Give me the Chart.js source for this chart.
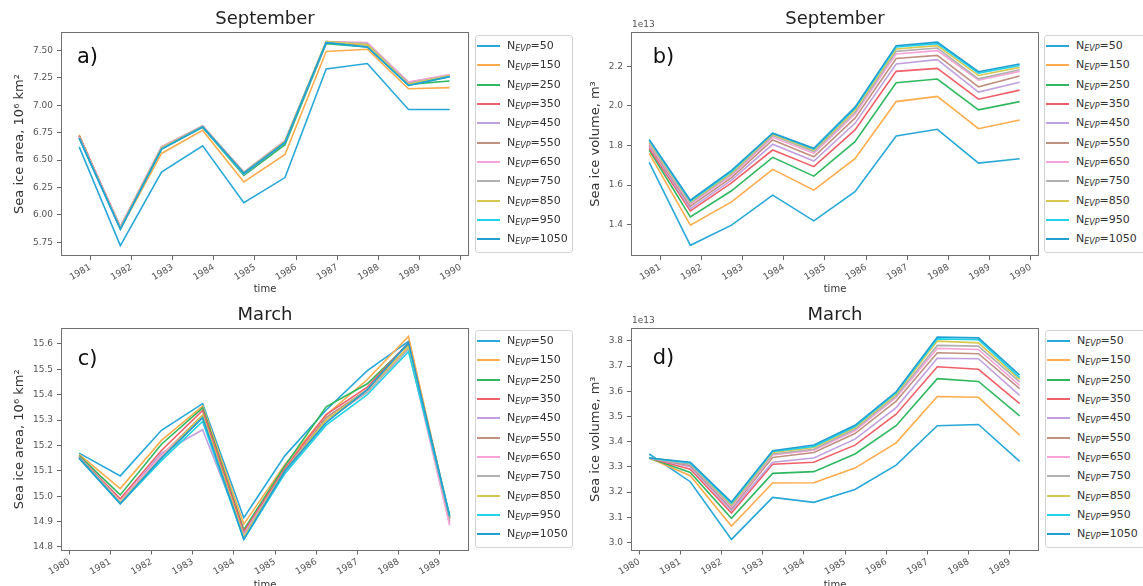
<!DOCTYPE html>
<html>
<head>
<meta charset="utf-8">
<script src="https://cdn.jsdelivr.net/npm/chart.js@4.4.1/dist/chart.umd.min.js"></script>
<style>
  html, body { margin: 0; padding: 0; background: #fff; }
  #wrap { position: relative; width: 1143px; height: 586px; overflow: hidden; background: #fff; }
  .panel { position: absolute; overflow: hidden; }
  .panel canvas { display: block; }
  .legend { position: absolute; box-sizing: border-box; border: 1px solid #d4d4d4; border-radius: 3px; background: rgba(255,255,255,0.9);
            font-family: "DejaVu Sans", sans-serif; color: #333; }
  .legend .row { position: relative; height: 19.33px; line-height: 19.33px; font-size: 11px; white-space: nowrap; }
  .legend .sw { position: absolute; left: 1px; top: 9px; width: 23px; height: 2px; }
  .legend .tx { position: absolute; left: 31px; top: 0; }
  .legend sub { font-size: 8px; font-style: italic; vertical-align: -2px; line-height: 0; }
</style>
</head>
<body>
<div id="wrap">
  <div class="panel" style="left:0;top:0;width:472px;height:293px"><canvas id="ca" width="472" height="296"></canvas></div>
  <div class="panel" style="left:570px;top:0;width:472px;height:293px"><canvas id="cb" width="472" height="296"></canvas></div>
  <div class="panel" style="left:0;top:296px;width:472px;height:290px"><canvas id="cc" width="472" height="296"></canvas></div>
  <div class="panel" style="left:570px;top:296px;width:472px;height:290px"><canvas id="cd" width="472" height="296"></canvas></div>
  <div class="legend" id="la" style="left:475px;top:35px;width:98px;height:218px"></div>
  <div class="legend" id="lb" style="left:1044px;top:35px;width:110px;height:218px"></div>
  <div class="legend" id="lc" style="left:475px;top:330px;width:98px;height:218px"></div>
  <div class="legend" id="ld" style="left:1045px;top:330px;width:110px;height:218px"></div>
</div>
<script>
// ---------- categories / ticks ----------
const seriesN = [50, 150, 250, 350, 450, 550, 650, 750, 850, 950, 1050];
const septYears = [1980.73, 1981.73, 1982.73, 1983.73, 1984.73, 1985.73, 1986.73, 1987.73, 1988.73, 1989.73];
const marchYears = [1980.24, 1981.24, 1982.24, 1983.24, 1984.24, 1985.24, 1986.24, 1987.24, 1988.24, 1989.24];
const septTickYears = [1981, 1982, 1983, 1984, 1985, 1986, 1987, 1988, 1989, 1990];
const marchTickYears = [1980, 1981, 1982, 1983, 1984, 1985, 1986, 1987, 1988, 1989];
const septAreaTicks = [5.75, 6.00, 6.25, 6.50, 6.75, 7.00, 7.25, 7.50];
const septVolTicks = [1.4, 1.6, 1.8, 2.0, 2.2];
const marchAreaTicks = [14.8, 14.9, 15.0, 15.1, 15.2, 15.3, 15.4, 15.5, 15.6];
const marchVolTicks = [3.0, 3.1, 3.2, 3.3, 3.4, 3.5, 3.6, 3.7, 3.8];

// ---------- a) September sea ice area, 10^6 km^2 (rows: N_EVP = 50 ... 1050) ----------
const septArea = [
  [6.62, 5.72, 6.39, 6.63, 6.11, 6.34, 7.33, 7.38, 6.96, 6.96],
  [6.73, 5.87, 6.56, 6.77, 6.30, 6.55, 7.49, 7.51, 7.15, 7.16],
  [6.72, 5.88, 6.60, 6.80, 6.36, 6.64, 7.56, 7.53, 7.19, 7.22],
  [6.72, 5.89, 6.61, 6.81, 6.37, 6.66, 7.57, 7.55, 7.20, 7.26],
  [6.71, 5.89, 6.61, 6.81, 6.38, 6.67, 7.57, 7.56, 7.21, 7.27],
  [6.71, 5.89, 6.62, 6.81, 6.38, 6.67, 7.57, 7.56, 7.20, 7.27],
  [6.71, 5.89, 6.62, 6.81, 6.39, 6.68, 7.58, 7.57, 7.21, 7.28],
  [6.70, 5.88, 6.61, 6.81, 6.39, 6.67, 7.58, 7.56, 7.20, 7.27],
  [6.70, 5.88, 6.61, 6.80, 6.38, 6.67, 7.58, 7.55, 7.19, 7.27],
  [6.70, 5.87, 6.60, 6.80, 6.37, 6.66, 7.57, 7.53, 7.18, 7.26],
  [6.70, 5.87, 6.60, 6.80, 6.38, 6.66, 7.57, 7.53, 7.18, 7.26]
];
// ---------- b) September sea ice volume, 1e13 m^3 ----------
const septVol = [
  [1.715, 1.295, 1.397, 1.549, 1.419, 1.566, 1.848, 1.882, 1.711, 1.733],
  [1.760, 1.397, 1.515, 1.679, 1.574, 1.733, 2.022, 2.048, 1.885, 1.929],
  [1.777, 1.439, 1.571, 1.740, 1.645, 1.819, 2.117, 2.136, 1.980, 2.022],
  [1.786, 1.469, 1.611, 1.777, 1.693, 1.879, 2.175, 2.190, 2.034, 2.080],
  [1.797, 1.481, 1.625, 1.806, 1.721, 1.912, 2.212, 2.234, 2.070, 2.120],
  [1.803, 1.493, 1.637, 1.828, 1.743, 1.938, 2.240, 2.256, 2.097, 2.151],
  [1.810, 1.503, 1.648, 1.841, 1.760, 1.958, 2.263, 2.280, 2.130, 2.175],
  [1.815, 1.510, 1.655, 1.850, 1.769, 1.968, 2.276, 2.293, 2.137, 2.183],
  [1.820, 1.515, 1.662, 1.857, 1.777, 1.980, 2.288, 2.305, 2.154, 2.195],
  [1.826, 1.518, 1.668, 1.862, 1.782, 1.989, 2.298, 2.315, 2.166, 2.205],
  [1.831, 1.523, 1.674, 1.862, 1.786, 1.994, 2.305, 2.323, 2.173, 2.212]
];
// ---------- c) March sea ice area, 10^6 km^2 ----------
const marchArea = [
  [15.170, 15.080, 15.260, 15.365, 14.915, 15.160, 15.340, 15.495, 15.610, 14.920],
  [15.165, 15.030, 15.220, 15.355, 14.890, 15.125, 15.320, 15.460, 15.630, 14.915],
  [15.160, 15.005, 15.205, 15.348, 14.868, 15.120, 15.352, 15.443, 15.600, 14.920],
  [15.155, 14.990, 15.180, 15.338, 14.860, 15.110, 15.322, 15.430, 15.605, 14.910],
  [15.155, 14.980, 15.170, 15.262, 14.850, 15.100, 15.310, 15.420, 15.590, 14.890],
  [15.155, 14.980, 15.160, 15.320, 14.840, 15.100, 15.310, 15.420, 15.590, 14.900],
  [15.150, 14.980, 15.160, 15.310, 14.840, 15.090, 15.300, 15.410, 15.580, 14.885],
  [15.150, 14.975, 15.150, 15.310, 14.840, 15.100, 15.300, 15.410, 15.580, 14.910],
  [15.150, 14.975, 15.150, 15.320, 14.840, 15.100, 15.300, 15.420, 15.590, 14.920],
  [15.150, 14.970, 15.140, 15.295, 14.830, 15.090, 15.280, 15.400, 15.570, 14.925],
  [15.150, 14.970, 15.150, 15.310, 14.830, 15.100, 15.290, 15.420, 15.605, 14.920]
];
// ---------- d) March sea ice volume, 1e13 m^3 ----------
const marchVol = [
  [3.351, 3.241, 3.012, 3.179, 3.159, 3.210, 3.307, 3.463, 3.468, 3.322],
  [3.335, 3.265, 3.065, 3.236, 3.237, 3.295, 3.395, 3.579, 3.576, 3.426],
  [3.335, 3.278, 3.096, 3.274, 3.281, 3.351, 3.463, 3.650, 3.639, 3.502],
  [3.335, 3.291, 3.117, 3.310, 3.318, 3.386, 3.509, 3.697, 3.687, 3.551],
  [3.335, 3.300, 3.128, 3.318, 3.335, 3.410, 3.535, 3.731, 3.729, 3.584],
  [3.335, 3.305, 3.135, 3.337, 3.357, 3.432, 3.561, 3.753, 3.749, 3.610],
  [3.335, 3.310, 3.140, 3.347, 3.366, 3.443, 3.575, 3.770, 3.766, 3.623],
  [3.335, 3.310, 3.145, 3.351, 3.370, 3.449, 3.581, 3.782, 3.779, 3.637],
  [3.335, 3.315, 3.150, 3.357, 3.377, 3.455, 3.588, 3.799, 3.792, 3.647],
  [3.335, 3.315, 3.155, 3.361, 3.381, 3.460, 3.594, 3.808, 3.805, 3.654],
  [3.335, 3.318, 3.160, 3.364, 3.387, 3.465, 3.598, 3.815, 3.812, 3.664]
];

const seriesColors = ['#28a8d8', '#ffac4c', '#30b860', '#f06068', '#c0a0e0', '#c09080',
                      '#f8a4d8', '#b0b0b0', '#d8c850', '#22d2e8', '#22a0d2'];

const FONT = '"DejaVu Sans", "Liberation Sans", sans-serif';

const framePlugin = {
  id: 'frame',
  afterDraw(chart, args, opts) {
    const {ctx, chartArea: a} = chart;
    ctx.save();
    ctx.strokeStyle = '#707070';
    ctx.lineWidth = 1;
    ctx.strokeRect(Math.round(a.left) + 0.5, Math.round(a.top) + 0.5,
                   Math.round(a.right - a.left) - 1, Math.round(a.bottom - a.top) - 1);
    ctx.fillStyle = '#111';
    ctx.font = '21px ' + FONT;
    ctx.textBaseline = 'middle';
    ctx.textAlign = 'left';
    ctx.fillText(opts.tag, a.left + opts.tagDx, a.top + opts.tagDy);
    if (opts.exp) {
      ctx.fillStyle = '#555';
      ctx.font = '9px ' + FONT;
      ctx.fillText(opts.exp, a.left + 1, a.top - 7);
    }
    ctx.restore();
  }
};

function makePanel(id, p) {
  const datasets = p.series.map((vals, i) => ({
    label: 'N_EVP=' + seriesN[i],
    data: vals.map((v, j) => ({x: p.xs[j], y: v})),
    borderColor: seriesColors[i],
    backgroundColor: seriesColors[i],
    borderWidth: 1.6,
    pointRadius: 0,
    tension: 0,
    fill: false,
    order: seriesN.length - 1 - i
  }));
  return new Chart(document.getElementById(id), {
    type: 'line',
    data: { datasets },
    options: {
      responsive: false,
      animation: false,
      devicePixelRatio: 1,
      events: [],
      layout: { padding: { left: 0, right: 3, top: 8.4, bottom: 0 } },
      plugins: {
        legend: { display: false },
        tooltip: { enabled: false },
        title: { display: true, fullSize: false, text: p.title, color: '#222',
                 font: { family: FONT, size: 18, weight: 'normal', lineHeight: 1.2 },
                 padding: { top: 0, bottom: 2 } },
        frame: { tag: p.tag, tagDx: p.tagDx, tagDy: p.tagDy, exp: p.exp }
      },
      scales: {
        x: {
          type: 'linear', min: p.xMin, max: p.xMax,
          afterBuildTicks: s => { s.ticks = p.xTicks.map(v => ({ value: v })); },
          afterFit: s => { s.height = p.xAxisH; },
          ticks: { minRotation: 30, maxRotation: 30, autoSkip: false, color: '#555', padding: 2,
                   font: { family: FONT, size: 9 }, callback: v => String(v) },
          grid: { display: true, drawOnChartArea: false, drawTicks: true, tickLength: 4, color: '#666' },
          border: { display: false },
          title: { display: true, text: 'time', color: '#333', font: { family: FONT, size: 10, lineHeight: 1.2 },
                   padding: { top: 0, bottom: 1 } }
        },
        y: {
          type: 'linear', min: p.yMin, max: p.yMax,
          afterBuildTicks: s => { s.ticks = p.yTicks.map(v => ({ value: v })); },
          afterFit: s => { s.width = 61; },
          ticks: { color: '#555', padding: 4, font: { family: FONT, size: 9 },
                   callback: v => Number(v).toFixed(p.yDec) },
          grid: { display: true, drawOnChartArea: false, drawTicks: true, tickLength: 4, color: '#666' },
          border: { display: false },
          title: { display: true, text: p.yLabel, color: '#333', font: { family: FONT, size: 13, lineHeight: 1.2 },
                   padding: { top: p.yTitlePad, bottom: 0 } }
        }
      }
    },
    plugins: [framePlugin]
  });
}

function buildLegend(elId, chart) {
  const el = document.getElementById(elId);
  chart.data.datasets.forEach(ds => {
    const n = ds.label.split('=')[1];
    const row = document.createElement('div');
    row.className = 'row';
    row.innerHTML = '<span class="sw" style="background:' + ds.borderColor + '"></span>' +
                    '<span class="tx">N<sub>EVP</sub>=' + n + '</span>';
    el.appendChild(row);
  });
}

const chartA = makePanel('ca', {
  series: septArea, xs: septYears, xTicks: septTickYears, xMin: 1980.288, xMax: 1990.20,
  yTicks: septAreaTicks, yMin: 5.625, yMax: 7.667, yDec: 2, xAxisH: 40,
  title: 'September', yLabel: 'Sea ice area, 10\u2076 km\u00B2', yTitlePad: 12,
  tag: 'a)', tagDx: 16, tagDy: 25.5, exp: null
});
const chartB = makePanel('cb', {
  series: septVol, xs: septYears, xTicks: septTickYears, xMin: 1980.288, xMax: 1990.20,
  yTicks: septVolTicks, yMin: 1.241, yMax: 2.374, yDec: 1, xAxisH: 40,
  title: 'September', yLabel: 'Sea ice volume, m\u00B3', yTitlePad: 18,
  tag: 'b)', tagDx: 21.7, tagDy: 25.5, exp: '1e13'
});
const chartC = makePanel('cc', {
  series: marchArea, xs: marchYears, xTicks: marchTickYears, xMin: 1979.80, xMax: 1989.71,
  yTicks: marchAreaTicks, yMin: 14.786, yMax: 15.663, yDec: 1, xAxisH: 41.5,
  title: 'March', yLabel: 'Sea ice area, 10\u2076 km\u00B2', yTitlePad: 12,
  tag: 'c)', tagDx: 16.7, tagDy: 31.3, exp: null
});
const chartD = makePanel('cd', {
  series: marchVol, xs: marchYears, xTicks: marchTickYears, xMin: 1979.80, xMax: 1989.71,
  yTicks: marchVolTicks, yMin: 2.968, yMax: 3.851, yDec: 1, xAxisH: 41.5,
  title: 'March', yLabel: 'Sea ice volume, m\u00B3', yTitlePad: 18,
  tag: 'd)', tagDx: 21.7, tagDy: 30.8, exp: '1e13'
});

buildLegend('la', chartA);
buildLegend('lb', chartB);
buildLegend('lc', chartC);
buildLegend('ld', chartD);
</script>
</body>
</html>
